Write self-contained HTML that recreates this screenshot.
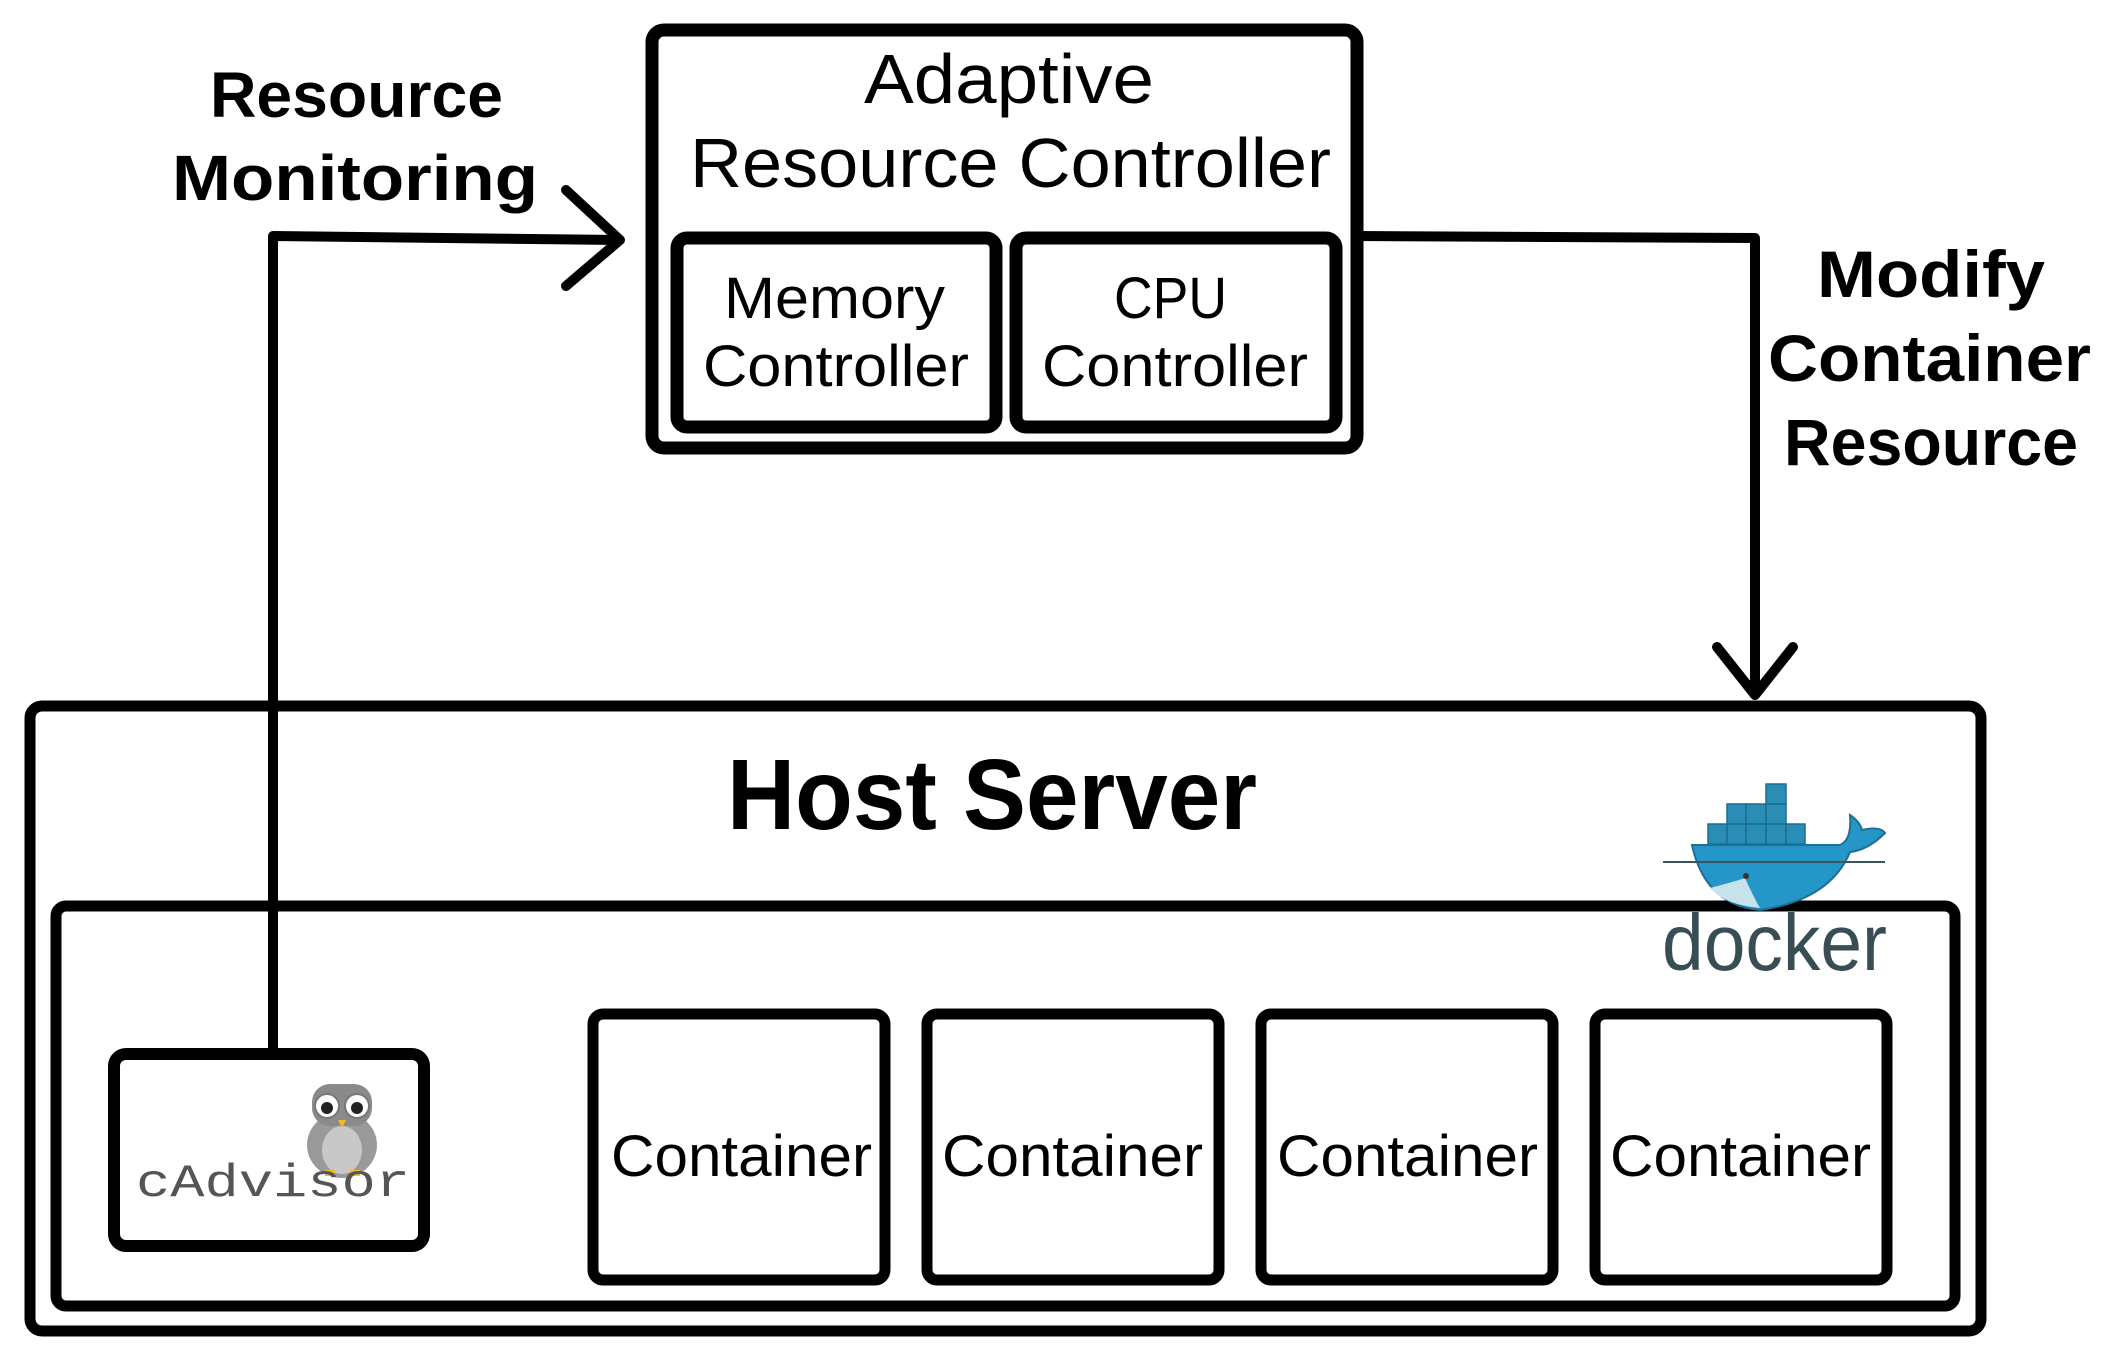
<!DOCTYPE html>
<html><head><meta charset="utf-8"><style>
html,body{margin:0;padding:0;background:#fff;}
svg{display:block;}
text{font-family:"Liberation Sans",sans-serif;fill:#000;}
</style></head><body>
<svg width="2110" height="1352" viewBox="0 0 2110 1352" xmlns="http://www.w3.org/2000/svg">
<g fill="none" stroke="#000" stroke-linejoin="round">
  <rect x="652" y="30" width="705" height="418" rx="12" stroke-width="13"/>
  <rect x="677" y="238" width="319" height="189" rx="10" stroke-width="13"/>
  <rect x="1016" y="238" width="320" height="189" rx="10" stroke-width="13"/>
  <rect x="30" y="706" width="1951" height="625" rx="12" stroke-width="11"/>
  <rect x="56" y="906" width="1899" height="400" rx="10" stroke-width="11"/>
  <rect x="114" y="1054" width="310" height="192" rx="12" stroke-width="12"/>
  <rect x="593" y="1014" width="292" height="266" rx="10" stroke-width="11"/>
  <rect x="927" y="1014" width="292" height="266" rx="10" stroke-width="11"/>
  <rect x="1261" y="1014" width="292" height="266" rx="10" stroke-width="11"/>
  <rect x="1595" y="1014" width="292" height="266" rx="10" stroke-width="11"/>
  <polyline points="273,1054 273,236 620,240" stroke-width="10"/>
  <polyline points="566,190 620,240 566,286" stroke-width="10" stroke-linecap="round"/>
  <polyline points="1357,236 1755,238 1755,695" stroke-width="10"/>
  <polyline points="1717,647 1755,695 1793,647" stroke-width="10" stroke-linecap="round"/>
</g>
<text x="210" y="117" font-size="64" font-weight="bold" textLength="293" lengthAdjust="spacingAndGlyphs">Resource</text>
<text x="172" y="200" font-size="64" font-weight="bold" textLength="366" lengthAdjust="spacingAndGlyphs">Monitoring</text>
<text x="864" y="103" font-size="70" textLength="290" lengthAdjust="spacingAndGlyphs">Adaptive</text>
<text x="690" y="187" font-size="70" textLength="641" lengthAdjust="spacingAndGlyphs">Resource Controller</text>
<text x="724" y="318" font-size="58" textLength="221" lengthAdjust="spacingAndGlyphs">Memory</text>
<text x="703" y="386" font-size="58" textLength="266" lengthAdjust="spacingAndGlyphs">Controller</text>
<text x="1114" y="318" font-size="58" textLength="113" lengthAdjust="spacingAndGlyphs">CPU</text>
<text x="1042" y="386" font-size="58" textLength="266" lengthAdjust="spacingAndGlyphs">Controller</text>
<text x="1817" y="297" font-size="66" font-weight="bold" textLength="228" lengthAdjust="spacingAndGlyphs">Modify</text>
<text x="1768" y="381" font-size="66" font-weight="bold" textLength="323" lengthAdjust="spacingAndGlyphs">Container</text>
<text x="1784" y="465" font-size="66" font-weight="bold" textLength="294" lengthAdjust="spacingAndGlyphs">Resource</text>
<text x="727" y="829" font-size="100" font-weight="bold" textLength="530" lengthAdjust="spacingAndGlyphs">Host Server</text>
<text x="611" y="1176" font-size="58" textLength="261" lengthAdjust="spacingAndGlyphs">Container</text>
<text x="942" y="1176" font-size="58" textLength="261" lengthAdjust="spacingAndGlyphs">Container</text>
<text x="1277" y="1176" font-size="58" textLength="261" lengthAdjust="spacingAndGlyphs">Container</text>
<text x="1610" y="1176" font-size="58" textLength="261" lengthAdjust="spacingAndGlyphs">Container</text>
<g>
  <ellipse cx="342" cy="1145" rx="35" ry="33" fill="#9a9a9a"/>
  <ellipse cx="342" cy="1150" rx="20" ry="24" fill="#c8c8c8"/>
  <rect x="312" y="1084" width="60" height="42" rx="18" fill="#8a8a8a"/>
  <circle cx="327" cy="1106" r="12" fill="#fff" stroke="#777" stroke-width="2"/>
  <circle cx="357" cy="1106" r="12" fill="#fff" stroke="#777" stroke-width="2"/>
  <circle cx="327" cy="1108" r="6" fill="#222"/>
  <circle cx="357" cy="1108" r="6" fill="#222"/>
  <polygon points="338,1120 346,1120 342,1128" fill="#f0b92a"/>
  <rect x="325" y="1170" width="10" height="6" fill="#f0b92a"/>
  <rect x="350" y="1170" width="10" height="6" fill="#f0b92a"/>
</g>
<text x="136" y="1196" font-size="46" style="font-family:'Liberation Mono',monospace;fill:#555" textLength="274" lengthAdjust="spacingAndGlyphs">cAdvisor</text>
<g>
  <g fill="#2a8db6" stroke="#1c6d8f" stroke-width="1.5">
    <rect x="1766" y="784" width="20" height="20"/>
    <rect x="1727" y="804" width="19" height="20"/><rect x="1746" y="804" width="20" height="20"/><rect x="1766" y="804" width="20" height="20"/>
    <rect x="1708" y="824" width="19" height="20"/><rect x="1727" y="824" width="19" height="20"/><rect x="1746" y="824" width="20" height="20"/><rect x="1766" y="824" width="20" height="20"/><rect x="1786" y="824" width="19" height="20"/>
  </g>
  <path d="M1692,845 L1840,845 Q1852,840 1850,815 Q1860,822 1862,830 Q1880,826 1885,833 Q1868,850 1850,852 Q1830,900 1760,910 Q1705,905 1692,845 Z" fill="#2496c8" stroke="#1f6f93" stroke-width="2"/>
  <path d="M1710,888 Q1740,880 1745,878 Q1755,900 1760,908 Q1725,905 1710,888 Z" fill="#c6e2ea"/>
  <line x1="1663" y1="862" x2="1885" y2="862" stroke="#3b5560" stroke-width="2"/>
  <circle cx="1746" cy="876" r="3" fill="#333"/>
</g>
<text x="1662" y="970" font-size="80" style="fill:#394d54" textLength="225" lengthAdjust="spacingAndGlyphs">docker</text>
</svg>
</body></html>
